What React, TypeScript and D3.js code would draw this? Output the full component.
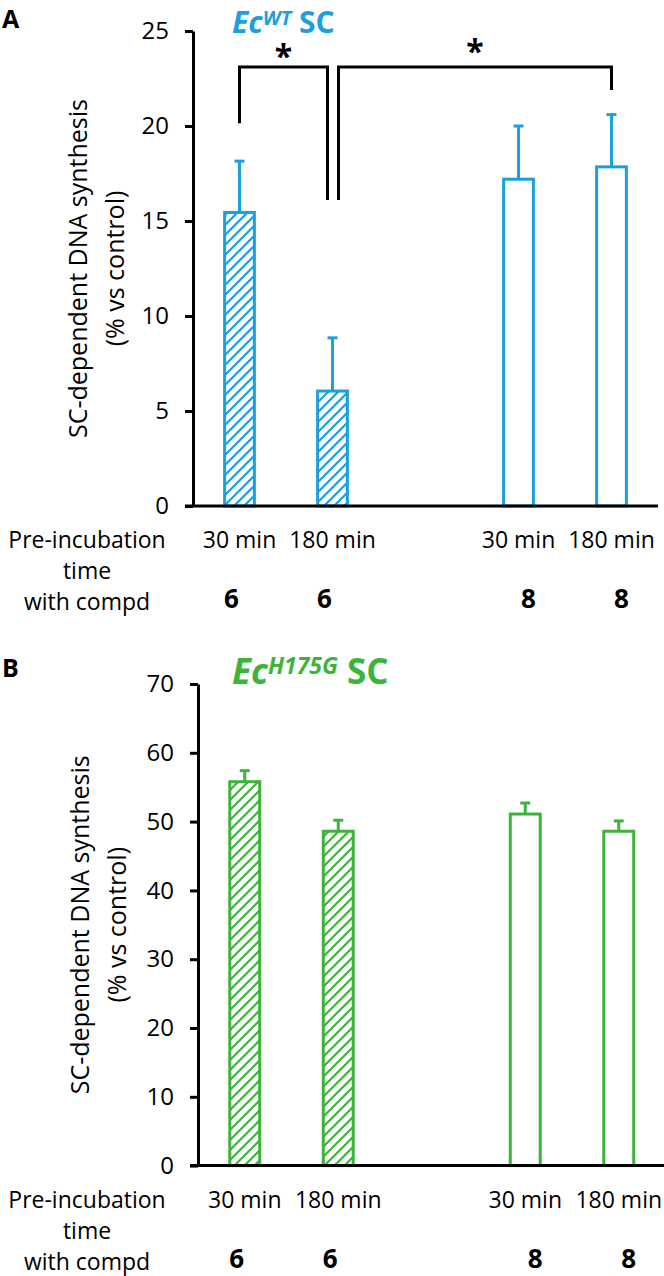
import { useEffect, useRef } from 'react';
import * as d3 from 'd3';

// slots on the x axis: the third one is an empty gap between the two compounds
const slots = ['6-30', '6-180', 'gap', '8-30', '8-180'];
const barSlots = ['6-30', '6-180', '8-30', '8-180'];
const timeLabels = ['30 min', '180 min', '30 min', '180 min'];
const compdLabels = ['6', '6', '8', '8'];
const hatched = [true, true, false, false];
const rowLabels = ['Pre-incubation', 'time', 'with compd'];

const wtMeans = [15.45, 6.05, 17.2, 17.85];
const wtErrors = [2.7, 2.8, 2.8, 2.75];
const wtTicks = [0, 5, 10, 15, 20, 25];

const mutMeans = [55.8, 48.6, 51.1, 48.6];
const mutErrors = [1.6, 1.6, 1.6, 1.5];
const mutTicks = [0, 10, 20, 30, 40, 50, 60, 70];

// significance brackets for panel A (values in % units)
const wtBrackets = [
  { from: '6-30', to: '6-180', top: 23.1, fromEnd: 20.15, toEnd: 16.1, star: 23.9 },
  { from: '6-180', to: '8-180', top: 23.1, fromEnd: 16.1, toEnd: 21.9, star: 24.15 },
];

const FONT = '"Open Sans", "DejaVu Sans", sans-serif';

interface PanelProps {
  id: string;
  letter: string;
  supText: string;
  color: string;
  means: number[];
  errors: number[];
  ticks: number[];
  brackets?: typeof wtBrackets;
  left: number;
  right: number;
  top: number;
  bottom: number;
  titleY: number;
  letterY: number;
  titleSize: number;
  supSize: number;
  supShift: number;
  labelCenter: number;
}

function drawPanel(svg: d3.Selection<SVGSVGElement, unknown, null, undefined>, p: PanelProps) {
  const color = p.color;
  const x = d3.scaleBand<string>().domain(slots).range([p.left, p.right]).paddingInner(0.68).paddingOuter(0.34);
  const y = d3.scaleLinear().domain([0, d3.max(p.ticks) as number]).range([p.bottom, p.top]);
  const cx = (s: string) => (x(s) as number) + x.bandwidth() / 2;

  const defs = svg.append('defs');
  defs.append('pattern')
    .attr('id', `hatch-${p.id}`)
    .attr('patternUnits', 'userSpaceOnUse')
    .attr('width', 10)
    .attr('height', 10)
    .append('path')
    .attr('d', 'M-2,2 l4,-4 M0,10 l10,-10 M8,12 l4,-4')
    .attr('stroke', color)
    .attr('stroke-width', 2.2);

  const g = svg.append('g');

  // panel letter
  g.append('text')
    .attr('x', 2)
    .attr('y', p.letterY)
    .attr('font-family', FONT)
    .attr('font-weight', 700)
    .attr('font-size', 25)
    .text(p.letter);

  // title
  const title = g.append('text')
    .attr('x', 232)
    .attr('y', p.titleY)
    .attr('font-family', FONT)
    .attr('font-weight', 700)
    .attr('font-size', p.titleSize)
    .attr('fill', color);
  title.append('tspan').attr('font-style', 'italic').text('Ec');
  title.append('tspan').attr('font-style', 'italic').attr('font-size', p.supSize).attr('dy', -p.supShift).text(p.supText);
  title.append('tspan').attr('dy', p.supShift).text('\u00a0SC');

  // bars
  barSlots.forEach((s, i) => {
    const bw = x.bandwidth();
    const x0 = x(s) as number;
    const yTop = y(p.means[i]);
    const yErr = y(p.means[i] + p.errors[i]);
    g.append('line')
      .attr('x1', x0 + bw / 2).attr('x2', x0 + bw / 2)
      .attr('y1', yTop).attr('y2', yErr)
      .attr('stroke', color).attr('stroke-width', 3);
    g.append('line')
      .attr('x1', x0 + bw / 2 - 5).attr('x2', x0 + bw / 2 + 5)
      .attr('y1', yErr).attr('y2', yErr)
      .attr('stroke', color).attr('stroke-width', 3);
    g.append('rect')
      .attr('x', x0)
      .attr('y', yTop)
      .attr('width', bw)
      .attr('height', y(0) - yTop)
      .attr('fill', hatched[i] ? `url(#hatch-${p.id})` : '#fff')
      .attr('stroke', color)
      .attr('stroke-width', 3);
  });

  // axes
  const yAxis = d3.axisLeft(y).tickValues(p.ticks).tickSize(8).tickSizeOuter(0).tickPadding(16);
  const ya = g.append('g').attr('transform', `translate(${p.left},0)`).call(yAxis);
  ya.select('.domain').attr('stroke', '#000').attr('stroke-width', 3);
  ya.selectAll('.tick line').attr('stroke', '#000').attr('stroke-width', 3);
  ya.selectAll('.tick text')
    .attr('font-family', FONT)
    .attr('font-size', 24)
    .attr('fill', '#000');

  g.append('line')
    .attr('x1', p.left - 8).attr('x2', p.right)
    .attr('y1', y(0)).attr('y2', y(0))
    .attr('stroke', '#000').attr('stroke-width', 3);

  // y label
  const mid = (p.top + p.bottom) / 2;
  const yl = g.append('text')
    .attr('transform', `translate(${p.labelCenter},${mid}) rotate(-90)`)
    .attr('text-anchor', 'middle')
    .attr('font-family', FONT)
    .attr('font-size', 25)
    .attr('fill', '#000');
  yl.append('tspan').attr('x', 0).attr('dy', '0.35em').text('SC-dependent DNA synthesis');
  yl.append('tspan').attr('x', 0).attr('dy', '1.48em').text('(% vs control)');

  // table under the axis
  const base = y(0);
  rowLabels.forEach((t, k) => {
    g.append('text')
      .attr('x', 87)
      .attr('y', base + 42 + k * 31)
      .attr('text-anchor', 'middle')
      .attr('font-family', FONT)
      .attr('font-size', 23)
      .text(t);
  });
  barSlots.forEach((s, i) => {
    g.append('text')
      .attr('x', cx(s))
      .attr('y', base + 42)
      .attr('text-anchor', 'middle')
      .attr('font-family', FONT)
      .attr('font-size', 23)
      .text(timeLabels[i]);
    g.append('text')
      .attr('x', cx(s) + (compdLabels[i] === '6' ? -8 : 10))
      .attr('y', base + 102)
      .attr('text-anchor', 'middle')
      .attr('font-family', FONT)
      .attr('font-weight', 700)
      .attr('font-size', 26)
      .text(compdLabels[i]);
  });

  // significance brackets
  (p.brackets || []).forEach((b, k) => {
    const xa = cx(b.from) + (k === 1 ? 6 : 0);
    const xb = cx(b.to) + (k === 0 ? -5 : 0);
    const path = d3.path();
    path.moveTo(xa, y(b.fromEnd));
    path.lineTo(xa, y(b.top));
    path.lineTo(xb, y(b.top));
    path.lineTo(xb, y(b.toEnd));
    g.append('path')
      .attr('d', path.toString())
      .attr('fill', 'none')
      .attr('stroke', '#000')
      .attr('stroke-width', 3);
    g.append('text')
      .attr('x', (xa + xb) / 2)
      .attr('y', y(b.star) + 16)
      .attr('text-anchor', 'middle')
      .attr('font-family', FONT)
      .attr('font-weight', 700)
      .attr('font-size', 32)
      .text('*');
  });
}

export default function App() {
  const svgRef = useRef<SVGSVGElement>(null);

  useEffect(() => {
    if (!svgRef.current) return;
    const svg = d3.select(svgRef.current);
    svg.selectAll('*').remove();

    drawPanel(svg, {
      id: 'a', letter: 'A', supText: 'WT', color: '#1c9fdd',
      means: wtMeans, errors: wtErrors, ticks: wtTicks, brackets: wtBrackets,
      left: 193, right: 658, top: 31, bottom: 506,
      titleY: 33, letterY: 28, titleSize: 30, supSize: 20, supShift: 8, labelCenter: 78,
    });
    drawPanel(svg, {
      id: 'b', letter: 'B', supText: 'H175G', color: '#3cb43a',
      means: mutMeans, errors: mutErrors, ticks: mutTicks,
      left: 198, right: 665.5, top: 684, bottom: 1165.6,
      titleY: 684, letterY: 677, titleSize: 35, supSize: 23, supShift: 10, labelCenter: 80,
    });
  }, []);

  return (
    <div style={{ position: 'absolute', left: 0, top: 0 }}>
      <svg ref={svgRef} width={664} height={1276} style={{ display: 'block', background: '#fff' }} />
    </div>
  );
}
